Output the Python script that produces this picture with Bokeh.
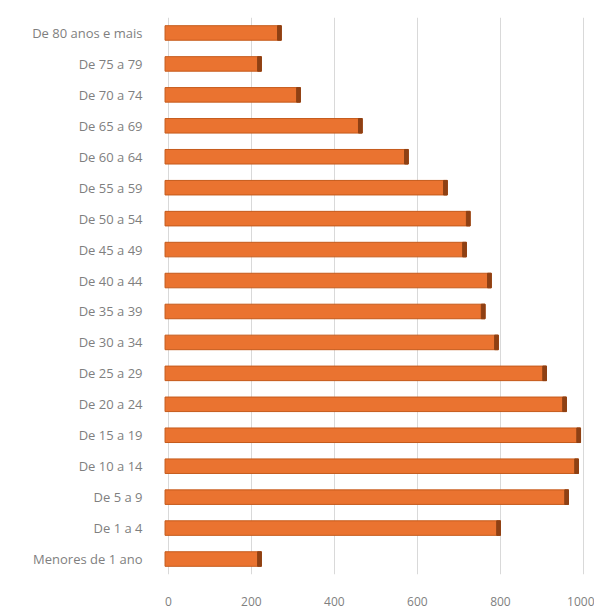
from bokeh.plotting import figure
from bokeh.models import ColumnDataSource, Range1d, FactorRange, FixedTicker
from bokeh.embed import file_html
from bokeh.resources import INLINE

categories = ["Menores de 1 ano", "De 1 a 4", "De 5 a 9", "De 10 a 14", "De 15 a 19",
              "De 20 a 24", "De 25 a 29", "De 30 a 34", "De 35 a 39", "De 40 a 44",
              "De 45 a 49", "De 50 a 54", "De 55 a 59", "De 60 a 64", "De 65 a 69",
              "De 70 a 74", "De 75 a 79", "De 80 anos e mais"]
values = [224, 800, 964, 988, 993, 959, 911, 795, 763, 778, 718, 727, 672, 578, 467, 318, 224, 272]
x_ticks = [0, 200, 400, 600, 800, 1000]

cap = 9  # width of the darker end cap, in data units
src = ColumnDataSource(dict(
    cat=categories,
    val=values,
    cap_start=[v - cap for v in values],
))

p = figure(width=594, height=609, output_backend="svg", toolbar_location=None,
           y_range=FactorRange(*categories, range_padding=0),
           x_range=Range1d(-31, 1017))
p.min_border_left = 155
p.min_border_right = 4
p.min_border_top = 17
p.min_border_bottom = 35
p.outline_line_color = None
p.background_fill_color = "white"
p.border_fill_color = "white"

p.hbar(y="cat", left=-8, right="val", height=0.47, source=src,
       fill_color="#EA7330", line_color="#C55A1B", line_width=1)
p.hbar(y="cat", left="cap_start", right="val", height=0.47, source=src,
       fill_color="#8E4014", line_color="#8E4014", line_width=1)

p.xgrid.ticker = FixedTicker(ticks=x_ticks)
p.xgrid.grid_line_color = "#D9D9D9"
p.ygrid.grid_line_color = None
p.xaxis.ticker = FixedTicker(ticks=x_ticks)

for ax in (p.xaxis[0], p.yaxis[0]):
    ax.axis_line_color = None
    ax.major_tick_line_color = None
    ax.minor_tick_line_color = None
    ax.major_label_text_color = "#7F7F7F"
    ax.major_label_text_font = "Open Sans"
    ax.major_label_text_font_size = "12px"
p.yaxis.major_label_text_font_size = "13px"
p.xaxis.major_label_standoff = 16
p.yaxis.major_label_standoff = 7

open("out.html", "w").write(file_html(p, INLINE))
